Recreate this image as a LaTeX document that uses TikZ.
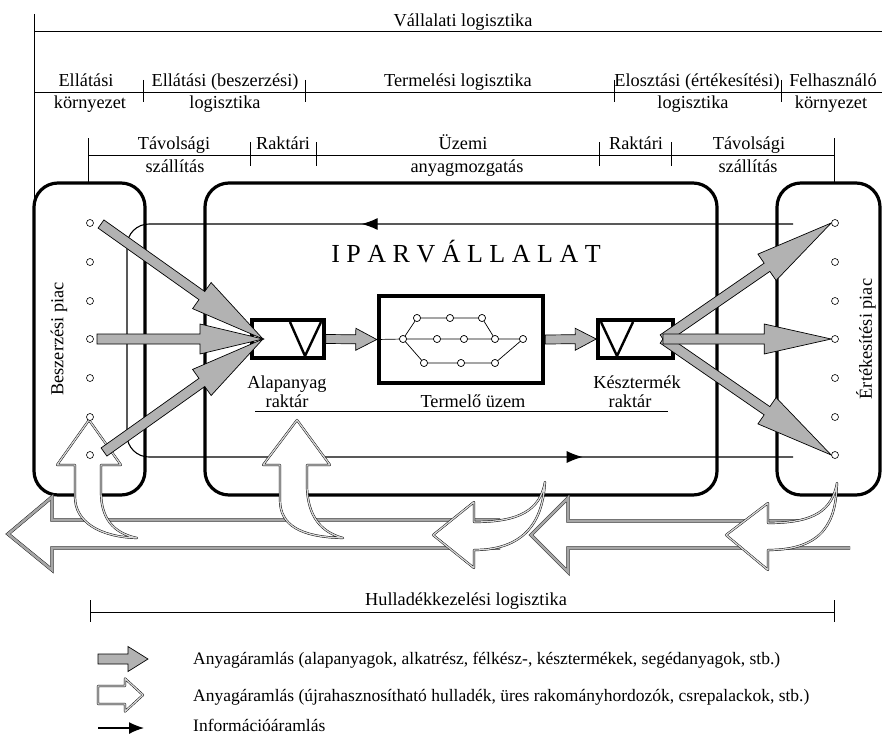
\documentclass[tikz,border=0pt]{standalone}
\usepackage{fontspec}
\setmainfont{Liberation Serif}
\usetikzlibrary{calc,arrows.meta,decorations.markings}
\pgfdeclarelayer{fg}
\pgfsetlayers{main,fg}

% broad flow arrow: [style]{tail}{tip}{head length}{shaft half width}{head half width}
\newcommand\fatarrow[6][flow]{%
  \coordinate (fah) at ($(#3)!#4!(#2)$);
  \draw[#1] ($(#2)!#5!90:(#3)$) -- ($(fah)!#5!90:(#3)$) -- ($(fah)!#6!90:(#3)$)
    -- (#3) -- ($(fah)!#6!-90:(#3)$) -- ($(fah)!#5!-90:(#3)$) -- ($(#2)!#5!-90:(#3)$) -- cycle;
}

\begin{document}
\begin{tikzpicture}[x=1pt,y=-1pt,
  lbl/.style={font=\fontsize{18.3}{20}\selectfont, inner sep=0pt, anchor=base},
  leg/.style={font=\fontsize{17.5}{19}\selectfont, inner sep=0pt, anchor=base west},
  rule/.style={line width=0.9pt},
  bigbox/.style={draw, line width=3.2pt, rounded corners=24pt, inner sep=0pt},
  dot/.style={circle, draw, line width=0.6pt, fill=white, minimum size=7pt, inner sep=0pt},
  store/.style={draw, line width=3.6pt, inner sep=0pt, minimum height=38pt},
  plantbox/.style={draw, line width=4.5pt, inner sep=0pt, minimum width=164pt, minimum height=87pt},
  net/.style={line width=0.7pt},
  vee/.style={line width=2.4pt},
  flow/.style={fill=black!30, draw=black, line width=0.7pt},
  recyc/.style={fill=white, draw=black, line width=0.45pt, double=black!15, double distance=1.3pt, line join=round},
  band/.style={draw=black, line width=0.4pt, double=black!35, double distance=2.6pt},
  info/.style={line width=1.1pt},
]
\useasboundingbox (0,0) rectangle (882,733);

% ---------- market and company frames ----------
\node[bigbox, minimum width=111pt, minimum height=312pt] (buy) at (89.5,339) {};
\node[bigbox, minimum width=512pt, minimum height=312pt] (firm) at (461,339) {};
\node[bigbox, minimum width=103pt, minimum height=312pt] (sell) at (828.5,339) {};

% ---------- scale of logistics areas ----------
\draw[rule] (34,14) -- (34,200);
\draw[rule] (34,31) -- (882,31);
\draw[rule] (34,92) -- (882,92);
\foreach \xx in {143,305,614,781} \draw[rule] (\xx,80) -- (\xx,102);
\draw[rule] (88,138) -- (88,183);
\draw[rule] (834,138) -- (834,183);
\draw[rule] (88,155) -- (834,155);
\foreach \xx in {250,316,599,671} \draw[rule] (\xx,142) -- (\xx,166);

\node[lbl] (corp) at (463,27) {Vállalati logisztika};
\node[lbl] (envA1) at (86,87) {Ellátási};
\node[lbl] (envA2) at (90,108) {környezet};
\node[lbl] (supA1) at (225,87) {Ellátási (beszerzési)};
\node[lbl] (supA2) at (225,108) {logisztika};
\node[lbl] (prodL) at (458,87) {Termelési logisztika};
\node[lbl] (disA1) at (697,87) {Elosztási (értékesítési)};
\node[lbl] (disA2) at (693,108) {logisztika};
\node[lbl] (envB1) at (833,87) {Felhasználó};
\node[lbl] (envB2) at (831,108) {környezet};

\node[lbl] (tr1a) at (174,149) {Távolsági};
\node[lbl] (tr1b) at (175,172) {szállítás};
\node[lbl] (st1) at (283,149) {Raktári};
\node[lbl] (mv1) at (463,149) {Üzemi};
\node[lbl] (mv2) at (467,172) {anyagmozgatás};
\node[lbl] (st2) at (636,149) {Raktári};
\node[lbl] (tr2a) at (749,149) {Távolsági};
\node[lbl] (tr2b) at (748,172) {szállítás};

% ---------- information loop ----------
\draw[info, rounded corners=22pt, postaction={decorate, decoration={markings,
    mark=at position 0.279 with {\arrow{Latex[length=16pt,width=12pt]}},
    mark=at position 0.864 with {\arrow{Latex[length=16pt,width=12pt]}}}}]
  (793,224) -- (127,224) -- (127,457) -- (793,457);

\node[font=\fontsize{26}{28}\selectfont, inner sep=0pt, anchor=base] (firmname) at (466,262) {I P A R V Á L L A L A T};

% ---------- waste / return band ----------
\fill[white] (500,520) -- (52,520) -- (52,497) -- (8,534) -- (52,570) -- (52,548) -- (500,548) -- cycle;
\draw[band] (500,520) -- (52,520) -- (52,497) -- (8,534) -- (52,570) -- (52,548) -- (500,548);
\fill[white] (826,521) -- (568,521) -- (568,498) -- (531,535) -- (568,572) -- (568,548) -- (850,548) -- cycle;
\draw[band] (826,521) -- (568,521) -- (568,498) -- (531,535) -- (568,572) -- (568,548) -- (850,548);

% returns leaving the company and the sales market
\draw[recyc] (433,535) -- (474,502) -- (474,522) .. controls (520,522) and (540,510) .. (545,482)
  .. controls (543,515) and (530,550) .. (474,550) -- (474,568) -- cycle;
\draw[recyc] (726,535) -- (768,503) -- (768,523) .. controls (815,523) and (832,510) .. (837,483)
  .. controls (836,520) and (825,550) .. (768,550) -- (768,570) -- cycle;

% returns fed back to the supply market and the raw material store
\draw[recyc] (89,420) -- (121,465) -- (101,465) -- (101,492) .. controls (101,518) and (113,533) .. (137,538)
  .. controls (100,537) and (75,522) .. (75,497) -- (75,465) -- (57,465) -- cycle;
\draw[recyc] (297,420) -- (330,465) -- (307,465) -- (307,488) .. controls (308,515) and (320,532) .. (343,538)
  .. controls (300,537) and (280,525) .. (280,500) -- (280,465) -- (263,465) -- cycle;

% ---------- stores and production plant ----------
\node[store, minimum width=72pt] (raw) at (288,339) {};
\draw[vee] (290,322) -- (305,356) -- (321,322);
\node[store, minimum width=75pt] (fin) at (635.5,339) {};
\draw[vee] (601,322) -- (617,356) -- (633,322);
\node[plantbox] (plant) at (461,339.5) {};

\foreach \nm/\xx/\yy in {c1/403/339,c2/437/339,c3/464/339,c4/495/339,c5/523/339,
    t1/417/318,t2/450/318,t3/482/318,b1/424/363,b2/461/363,b3/495/363}
  \node[dot] (\nm) at (\xx,\yy) {};
\draw[net] (plant.west) -- (c1) -- (c2) -- (c3) -- (c4) -- (c5);
\draw[net] (c1) -- (t1) -- (t2) -- (t3) -- (c4);
\draw[net] (c1) -- (b1) -- (b2) -- (b3) -- (c5);

% ---------- market points ----------
\begin{pgfonlayer}{fg}
\foreach \i/\yy in {1/223,2/262,3/301,4/339,5/378,6/417,7/455} {
  \node[dot] (L\i) at (90,\yy) {};
  \node[dot] (R\i) at (835,\yy) {};
}
\foreach \nm in {c1,c2,c3,c4,c5,t1,t2,t3,b1,b2,b3}
  \node[dot] at (\nm) {};
\end{pgfonlayer}

% ---------- material flows ----------
\fatarrow{raw.east}{plant.west}{21pt}{4.5pt}{11pt}
\fatarrow{plant.east}{fin.west}{21pt}{4.5pt}{11pt}

\coordinate (rawin) at (263,339);
\coordinate (s1) at ($(L1)+(11,1)$);
\coordinate (s2) at ($(L4)+(7,0)$);
\coordinate (s3) at ($(L7)+(14,-3)$);
\fatarrow{s1}{rawin}{75pt}{5pt}{16pt}
\fatarrow{s3}{rawin}{75pt}{5pt}{16pt}
\fatarrow{s2}{rawin}{63pt}{5pt}{15pt}

\coordinate (fout) at (663,339);
\fatarrow{fout}{R1.west}{78pt}{5pt}{16pt}
\fatarrow{fout}{R7.west}{78pt}{5pt}{16pt}
\fatarrow{fout}{R4.west}{67pt}{5pt}{15pt}

% ---------- labels ----------
\node[lbl, anchor=center, rotate=90] (buyname) at (59,339) {Beszerzési piac};
\node[lbl, anchor=center, rotate=90] (sellname) at (866,339) {Értékesítési piac};
\node[lbl] (rawA) at (287,388) {Alapanyag};
\node[lbl] (rawB) at (287,407) {raktár};
\node[lbl] (plantname) at (473,407) {Termelő üzem};
\node[lbl] (finA) at (637,388) {Késztermék};
\node[lbl] (finB) at (630,407) {raktár};
\draw[rule] (255,411) -- (668,411);

\draw[rule] (90,612) -- (834,612);
\draw[rule] (90,600) -- (90,622);
\draw[rule] (834,600) -- (834,622);
\node[lbl] (waste) at (466,605) {Hulladékkezelési logisztika};

% ---------- legend ----------
\coordinate (g1a) at (98,659); \coordinate (g1b) at (148,659);
\fatarrow{g1a}{g1b}{20pt}{5pt}{12.5pt}
\coordinate (g2a) at (98,695); \coordinate (g2b) at (143,695);
\fatarrow[recyc]{g2a}{g2b}{18pt}{9pt}{16.5pt}
\coordinate (g3a) at (98,728); \coordinate (g3b) at (144,728);
\draw[line width=1.4pt, -{Latex[length=15pt,width=12pt]}] (g3a) -- (g3b);

\node[leg] (leg1) at (193,664) {Anyagáramlás (alapanyagok, alkatrész, félkész-, késztermékek, segédanyagok, stb.)};
\node[leg] (leg2) at (193,701) {Anyagáramlás (újrahasznosítható hulladék, üres rakományhordozók, csrepalackok, stb.)};
\node[leg] (leg3) at (193,731) {Információáramlás};
\end{tikzpicture}
\end{document}
